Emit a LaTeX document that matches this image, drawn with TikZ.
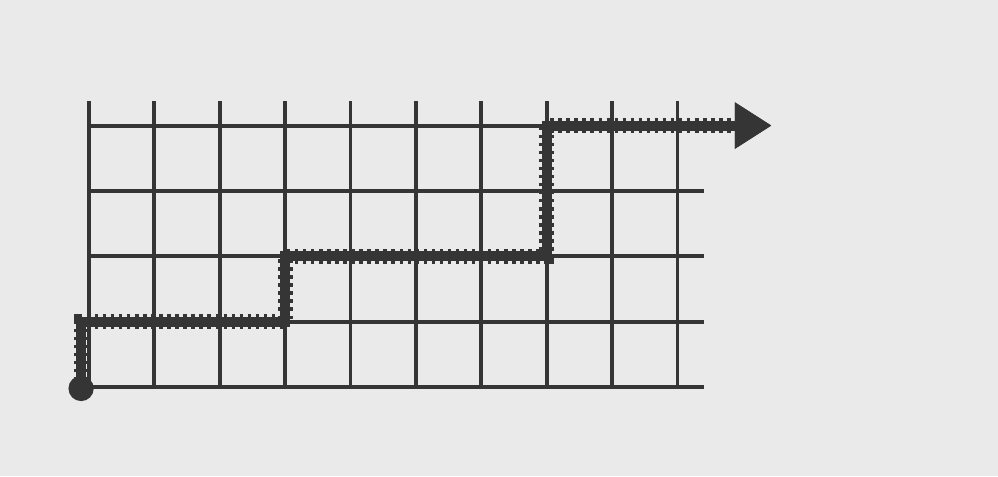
\documentclass[tikz,border=0pt]{standalone}
\usetikzlibrary{arrows.meta}
\definecolor{ink}{HTML}{353535}
\definecolor{paper}{HTML}{EAEAEA}
\tikzset{
  gridline/.style={ink, line width=1.7pt},
  route/.style={ink, line width=4.4pt, line join=miter,
                -{Triangle[length=16pt, width=19pt]},
                preaction={draw, ink, line width=6.6pt, dash pattern=on 1.5pt off 2pt}},
  startdot/.style={circle, fill=ink, inner sep=0pt, minimum size=11pt},
}

\begin{document}
\begin{tikzpicture}
\fill[paper] (-1.36,-1.36) rectangle (13.90,5.92);
% grid: ten upright lines, five across
\foreach \x in {0,...,9}
  \draw[gridline] (\x,0) -- (\x,4.38);
\foreach \y in {0,...,4}
  \draw[gridline] (0,\y) -- (9.4,\y);
% the staircase route
\node[startdot] (start) at (-0.12,-0.02) {};
\draw[route] (start.center) |- (3,1) |- (7,2) |- (10.44,4);
\end{tikzpicture}
\end{document}
